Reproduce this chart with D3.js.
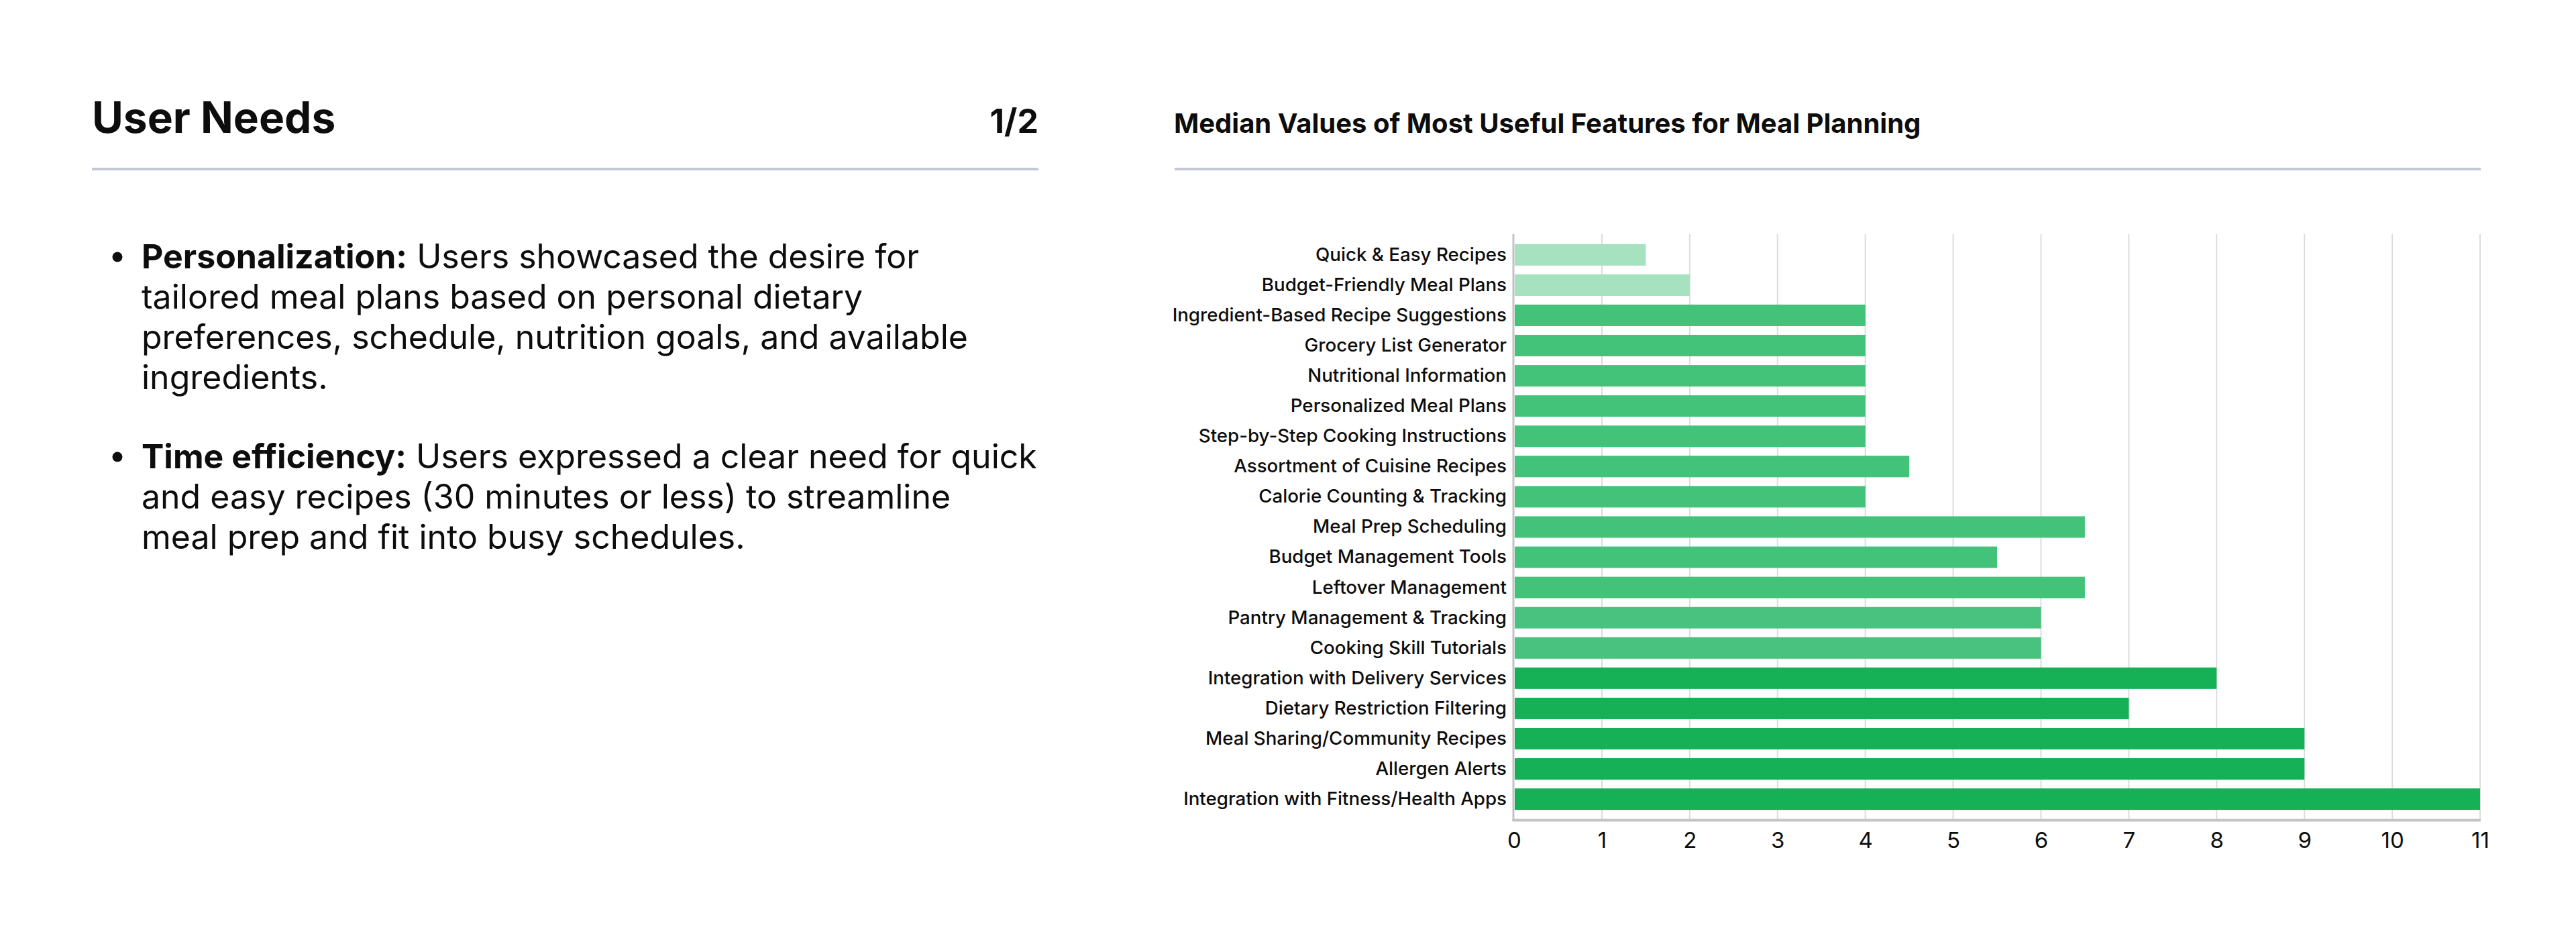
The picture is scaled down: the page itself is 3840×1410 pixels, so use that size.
<!DOCTYPE html>
<html>
<head>
<meta charset="utf-8">
<script src="https://cdn.jsdelivr.net/npm/d3@7"></script>
<style>
  html, body { margin: 0; padding: 0; background: #ffffff; }
  svg { display: block; }
  text { font-family: Inter, "Noto Sans", sans-serif; fill: #0d0d0d; }
</style>
</head>
<body>
<svg id="chart" width="3840" height="1410"></svg>
<script>
// ---- Data ----
const categories = [
  "Quick & Easy Recipes",
  "Budget-Friendly Meal Plans",
  "Ingredient-Based Recipe Suggestions",
  "Grocery List Generator",
  "Nutritional Information",
  "Personalized Meal Plans",
  "Step-by-Step Cooking Instructions",
  "Assortment of Cuisine Recipes",
  "Calorie Counting & Tracking",
  "Meal Prep Scheduling",
  "Budget Management Tools",
  "Leftover Management",
  "Pantry Management & Tracking",
  "Cooking Skill Tutorials",
  "Integration with Delivery Services",
  "Dietary Restriction Filtering",
  "Meal Sharing/Community Recipes",
  "Allergen Alerts",
  "Integration with Fitness/Health Apps"
];
const medianValues = [1.5, 2, 4, 4, 4, 4, 4, 4.5, 4, 6.5, 5.5, 6.5, 6, 6, 8, 7, 9, 9, 11];
const barGroups = ["light", "light", "mid", "mid", "mid", "mid", "mid", "mid", "mid", "mid", "mid", "mid", "mid2", "mid2", "dark", "dark", "dark", "dark", "dark"];
const xTicks = [0, 1, 2, 3, 4, 5, 6, 7, 8, 9, 10, 11];

const pageTitle = "User Needs";
const pageNumber = "1/2";
const chartTitle = "Median Values of Most Useful Features for Meal Planning";
const bullets = [
  { head: "Personalization:", lines: [" Users showcased the desire for", "tailored meal plans based on personal dietary", "preferences, schedule, nutrition goals, and available", "ingredients."] },
  { head: "Time efficiency:", lines: [" Users expressed a clear need for quick", "and easy recipes (30 minutes or less) to streamline", "meal prep and fit into busy schedules."] }
];

// ---- Styles ----
const groupColor = { light: "#a6e2bf", mid: "#43c27a", mid2: "#48c27e", dark: "#16b157" };

const svg = d3.select("#chart");

// ---- Left panel ----
svg.append("text")
  .attr("x", 137).attr("y", 198)
  .attr("font-size", 64).attr("font-weight", 700)
  .text(pageTitle);
svg.append("text")
  .attr("x", 1548).attr("y", 198)
  .attr("text-anchor", "end")
  .attr("font-size", 50).attr("font-weight", 700)
  .text(pageNumber);
svg.append("rect")
  .attr("x", 137).attr("y", 250).attr("width", 1411).attr("height", 4)
  .attr("fill", "#c5c8d3");

const lineH = 60;
let yCursor = 400;
bullets.forEach((b, bi) => {
  svg.append("circle")
    .attr("cx", 175).attr("cy", yCursor - 17).attr("r", 7.5)
    .attr("fill", "#0d0d0d");
  b.lines.forEach((ln, li) => {
    const t = svg.append("text")
      .attr("x", 211).attr("y", yCursor)
      .attr("font-size", 50).attr("font-weight", 400);
    if (li === 0) {
      t.append("tspan").attr("font-weight", 700).text(b.head);
    }
    t.append("tspan").text(ln);
    yCursor += lineH;
  });
  yCursor += 58;
});

// ---- Right panel: chart ----
svg.append("text")
  .attr("x", 1750).attr("y", 198)
  .attr("font-size", 40).attr("font-weight", 700)
  .text(chartTitle);
svg.append("rect")
  .attr("x", 1751).attr("y", 250).attr("width", 1947).attr("height", 4)
  .attr("fill", "#c5c8d3");

const x = d3.scaleLinear().domain([0, 11]).range([2257, 3697]);
const y = d3.scaleBand().domain(categories).range([349, 1222]).paddingInner(0.29).paddingOuter(0.33);

// gridlines
svg.append("g")
  .selectAll("line")
  .data(xTicks.filter(d => d > 0))
  .join("line")
  .attr("x1", d => x(d)).attr("x2", d => x(d))
  .attr("y1", 349).attr("y2", 1222)
  .attr("stroke", "#dcdcdc").attr("stroke-width", 2);

// bars
const data = categories.map((c, i) => ({ c, v: medianValues[i], g: barGroups[i] }));
svg.append("g")
  .selectAll("rect")
  .data(data)
  .join("rect")
  .attr("x", x(0) + 1)
  .attr("y", d => y(d.c))
  .attr("width", d => x(d.v) - x(0) - 1)
  .attr("height", y.bandwidth())
  .attr("fill", d => groupColor[d.g]);

// axis lines
svg.append("line")
  .attr("x1", x(0) - 1).attr("x2", x(0) - 1)
  .attr("y1", 349).attr("y2", 1224)
  .attr("stroke", "#c4c4c4").attr("stroke-width", 3);
svg.append("line")
  .attr("x1", x(0) - 2.5).attr("x2", x(11) + 1)
  .attr("y1", 1222.5).attr("y2", 1222.5)
  .attr("stroke", "#c4c4c4").attr("stroke-width", 4);

// y labels
const yAxis = d3.axisLeft(y).tickSize(0).tickPadding(0);
const gy = svg.append("g").attr("transform", `translate(${2246},0)`).call(yAxis);
gy.select(".domain").remove();
gy.selectAll("text")
  .attr("font-size", 27.7).attr("font-weight", 500)
  .attr("font-family", "Inter, 'Noto Sans', sans-serif")
  .attr("fill", "#0d0d0d");

// x labels
const xAxis = d3.axisBottom(x).tickValues(xTicks).tickSize(0).tickPadding(0).tickFormat(d3.format("d"));
const gx = svg.append("g").attr("transform", `translate(0,${1241})`).call(xAxis);
gx.select(".domain").remove();
gx.selectAll("text")
  .attr("font-size", 33).attr("font-weight", 400)
  .attr("font-family", "Inter, 'Noto Sans', sans-serif")
  .attr("fill", "#0d0d0d");
</script>
</body>
</html>
